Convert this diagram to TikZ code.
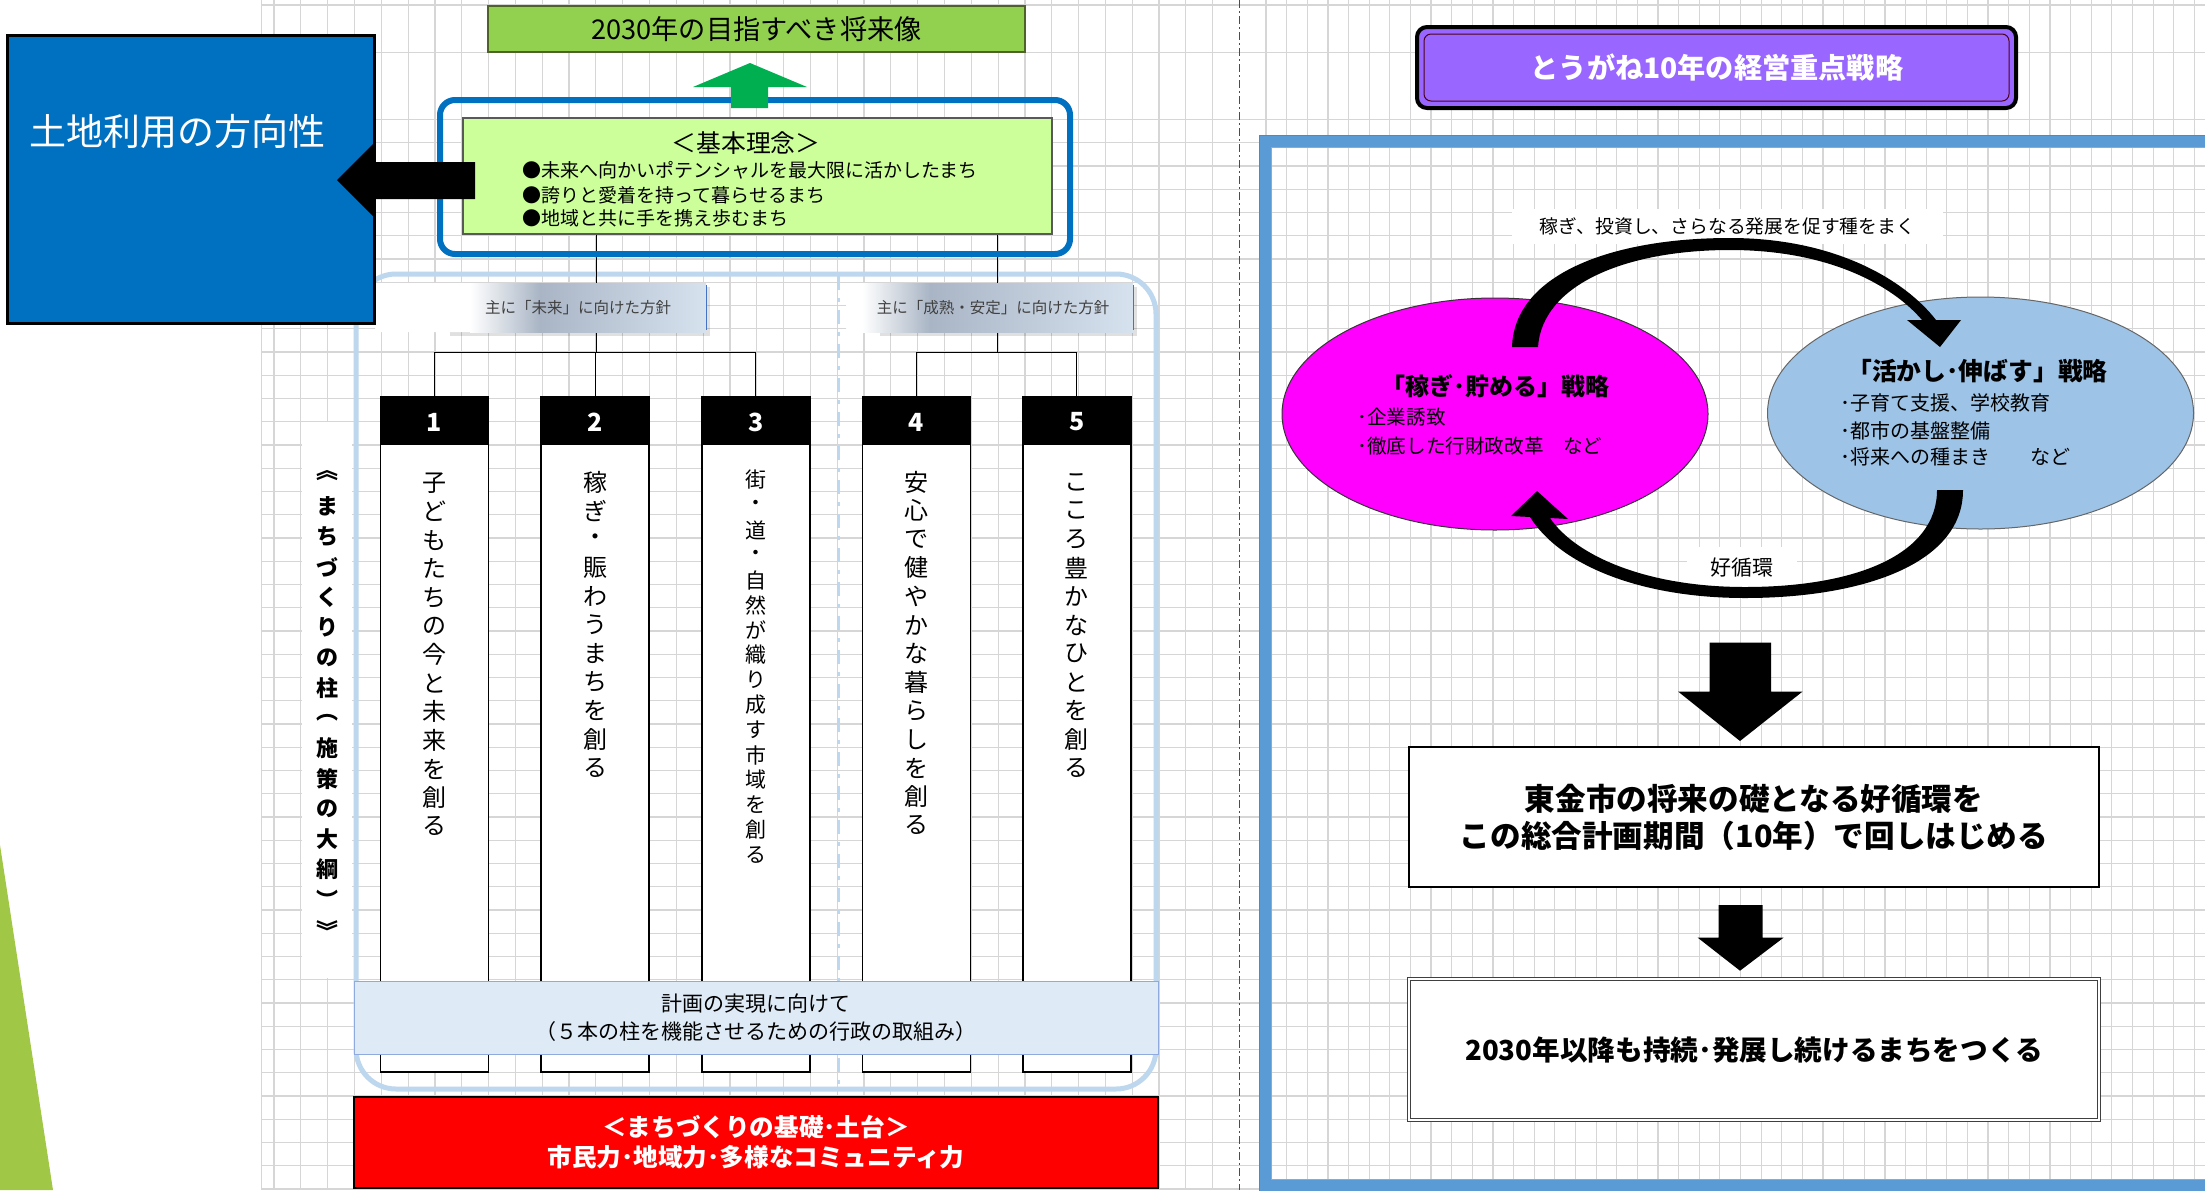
\documentclass[tikz,border=0pt]{standalone}
\usepackage{fontspec}
\newfontfamily\jp{Noto Sans CJK JP}
\usetikzlibrary{shapes.geometric}
\definecolor{landblue}{HTML}{0070C0}
\definecolor{topgreen}{HTML}{92D050}
\definecolor{topgreenline}{HTML}{4F6228}
\definecolor{arrowgreen}{HTML}{00B050}
\definecolor{kihonfill}{HTML}{CCFF99}
\definecolor{pale}{HTML}{BDD7EE}
\definecolor{calcfill}{HTML}{DEEBF7}
\definecolor{calcline}{HTML}{8FAADC}
\definecolor{purplebox}{HTML}{9966FF}
\definecolor{frameblue}{HTML}{5B9BD5}
\definecolor{framepurple}{HTML}{8866DD}
\definecolor{magentaE}{HTML}{FF00FF}
\definecolor{blueE}{HTML}{9DC3E6}
\definecolor{trigreen}{HTML}{A0C846}
\definecolor{gridc}{HTML}{D6D6D6}
\definecolor{lblgray}{HTML}{A9B5C5}
\definecolor{lbllight}{HTML}{D7E2EF}
\definecolor{lbltext}{HTML}{404040}
\definecolor{lblline}{HTML}{4472C4}
\newcommand\fz[2]{\fontsize{#1}{#2}\selectfont}
\begin{document}
\begin{tikzpicture}[x=0.5pt,y=-0.5pt,
  gridl/.style={draw=gridc, line width=0.6pt},
  txt/.style={inner sep=0pt, font=\jp},
  pch/.style={inner sep=0pt, font=\jp\fz{12pt}{12pt}},
  pchs/.style={inner sep=0pt, font=\jp\fz{10.5pt}{10.5pt}},
  vch/.style={inner sep=0pt, font=\jp\bfseries\fz{11pt}{11pt}},
  pillar/.style={draw=black, fill=white, line width=0.8pt, minimum width=54pt, minimum height=337.5pt, inner sep=0pt},
  pillarhead/.style={fill=black, minimum width=54pt, minimum height=24pt, inner sep=0pt, anchor=north},
  conn/.style={draw=black, line width=0.5pt},
  blockarrow/.style={fill=black}
]
\useasboundingbox (0,0) rectangle (2205,1190);
\fill[white] (0,0) rectangle (2205,1190);

% ---------- spreadsheet grid ----------
\begin{scope}[gridl]
\foreach \yy in {5,52.3} \draw (262,\yy) -- (2205,\yy);
\foreach \k in {0,...,46} \draw (262,{119.5+23.25*\k}) -- (2205,{119.5+23.25*\k});
\draw (261.7,0) -- (261.7,1190);
\foreach \k in {0,...,35} \draw ({274+26.82*\k},0) -- ({274+26.82*\k},1190);
\foreach \k in {0,...,46} \draw ({1266+20.63*\k},0) -- ({1266+20.63*\k},1190);
\end{scope}

% ---------- decorations ----------
\fill[trigreen] (0,845) -- (53,1190) -- (0,1190) -- cycle;
\draw[black!70, line width=0.5pt, dash pattern=on 4pt off 1.5pt on 1pt off 1.5pt] (1239.5,0) -- (1239.5,1190);

% ---------- left: pillar container ----------
\draw[pale, line width=2.5pt, rounded corners=20pt] (356,274) rectangle (1156,1089);
\draw[pale, line width=1.5pt, dash pattern=on 7pt off 4pt on 2pt off 4pt] (838,276) -- (838,1088);

% pillars
\foreach \n [count=\i from 0] in {1,...,5} {
  \pgfmathsetmacro\cx{434.5+160.6*\i}
  \node[pillar] (pil\n) at (\cx,734.5) {};
  \node[pillarhead] (hd\n) at (pil\n.north) {};
  \node[txt, font=\jp\bfseries\fz{12.5pt}{12.5pt}, text=white] (num\n) at (\cx,422) {\n};
}

% connectors
\coordinate (kL) at (596,234);
\coordinate (kR) at (997,234);
\coordinate (jL) at (596,352);
\coordinate (jR) at (997,352);
\draw[conn] (kL) -- (jL);
\draw[conn] (kR) -- (jR);
\draw[conn] (pil1.north |- jL) -- (pil3.north |- jL);
\draw[conn] (pil4.north |- jR) -- (pil5.north |- jR);
\foreach \n in {1,2,3} \draw[conn] (pil\n.north |- jL) -- (pil\n.north);
\foreach \n in {4,5} \draw[conn] (pil\n.north |- jR) -- (pil\n.north);

% policy labels
\fill[black, opacity=0.12] (450,287) rectangle (710,336);
\fill[white, rounded corners=2pt] (375,283) rectangle (707,332);
\shade[left color=white, right color=lblgray] (470,283) rectangle (540,332);
\shade[left color=lblgray, right color=lbllight] (540,283) rectangle (706,332);
\draw[lblline, line width=0.5pt] (706.5,285) -- (706.5,330);
\node[txt, font=\jp\fz{7.75pt}{7.75pt}, text=lbltext] (lblA) at (578,308) {主に「未来」に向けた方針};

\fill[black, opacity=0.12] (880,287) rectangle (1137,336);
\fill[white, rounded corners=2pt] (846,283) rectangle (1134,332);
\shade[left color=white, right color=lblgray] (862,283) rectangle (930,332);
\shade[left color=lblgray, right color=lbllight] (930,283) rectangle (1133,332);
\draw[lblline, line width=0.5pt] (1133.5,285) -- (1133.5,330);
\node[txt, font=\jp\fz{7.75pt}{7.75pt}, text=lbltext] (lblB) at (993,308) {主に「成熟・安定」に向けた方針};

% pillar texts
\foreach \c [count=\i from 0] in {子,ど,も,た,ち,の,今,と,未,来,を,創,る}
  \node[pch] (pa\i) at (434.5,{483+28.6*\i}) {\c};
\foreach \c [count=\i from 0] in {稼,ぎ,・,賑,わ,う,ま,ち,を,創,る}
  \node[pch] (pb\i) at (595.1,{482+28.6*\i}) {\c};
\foreach \c [count=\i from 0] in {街,・,道,・,自,然,が,織,り,成,す,市,域,を,創,る}
  \node[pchs] (pc\i) at (755.7,{480+25*\i}) {\c};
\foreach \c [count=\i from 0] in {安,心,で,健,や,か,な,暮,ら,し,を,創,る}
  \node[pch] (pd\i) at (916.3,{482+28.6*\i}) {\c};
\foreach \c [count=\i from 0] in {こ,こ,ろ,豊,か,な,ひ,と,を,創,る}
  \node[pch] (pe\i) at (1076.9,{482+28.6*\i}) {\c};

% vertical label
\node[fill=white, minimum width=25pt, minimum height=278pt, inner sep=0pt] (vlbg) at (327,700) {};
\foreach \c [count=\i from 0] in {︽,ま,ち,づ,く,り,の,柱,︵,施,策,の,大,綱,︶,︾}
  \node[vch] (vl\i) at (327,{476+30.27*\i}) {\c};

% implementation box and foundation box
\node[draw=calcline, fill=calcfill, line width=0.5pt, minimum width=402pt, minimum height=36.5pt, inner sep=0pt, align=center, font=\jp\fz{10.5pt}{14pt}] (calc) at (756,1017.5) {計画の実現に向けて\\（５本の柱を機能させるための行政の取組み）};
\node[draw=black, fill=red, line width=0.75pt, minimum width=402pt, minimum height=45.5pt, inner sep=0pt, align=center, text=white, font=\jp\bfseries\fz{12.3pt}{15pt}] (base) at (756,1142.5) {＜まちづくりの基礎･土台＞\\市民力･地域力･多様なコミュニティ力};

% ---------- basic philosophy ----------
\draw[landblue, line width=3pt, rounded corners=7.5pt] (440,100) rectangle (1070,254);
\node[draw=black!65, fill=kihonfill, line width=0.6pt, minimum width=294.5pt, minimum height=58pt, inner sep=0pt] (kihon) at (757.5,176) {};
\node[txt, font=\jp\fz{12.4pt}{12.4pt}] (kihonT) at (746,143) {＜基本理念＞};
\node[txt, font=\jp\fz{9.5pt}{9.5pt}, anchor=west] (kb1) at (522,170.7) {●未来へ向かいポテンシャルを最大限に活かしたまち};
\node[txt, font=\jp\fz{9.5pt}{9.5pt}, anchor=west] (kb2) at (522,195) {●誇りと愛着を持って暮らせるまち};
\node[txt, font=\jp\fz{9.5pt}{9.5pt}, anchor=west] (kb3) at (522,218.3) {●地域と共に手を携え歩むまち};

% future vision
\node[draw=topgreenline, fill=topgreen, line width=1pt, minimum width=268.5pt, minimum height=23pt, inner sep=0pt] (vision) at (756.5,29) {};
\node[txt, font=\jp\fz{13.6pt}{13.6pt}] (visionT) at (756.5,29) {2030年の目指すべき将来像};
\fill[arrowgreen] (731,108) -- (731,87) -- (693,87) -- (750,63) -- (807,87) -- (768,87) -- (768,108) -- cycle;

% land use box
\node[draw=black, fill=landblue, line width=1.5pt, minimum width=183.5pt, minimum height=144pt, inner sep=0pt] (land) at (190.5,179) {};
\node[txt, text=white, font=\jp\fz{18.5pt}{18.5pt}] (landT) at (177.5,131) {土地利用の方向性};
\fill[black] (475,162) -- (374,162) -- (374,143) -- (337,180) -- (374,217) -- (374,199) -- (475,199) -- cycle;

% ---------- right side ----------
\draw[frameblue, line width=6pt] (2260,141) -- (1265,141) -- (1265,1185) -- (2260,1185);
\draw[framepurple, line width=0.35pt] (2260,135) -- (1259,135) -- (1259,1191);
\draw[framepurple!70, line width=0.3pt] (2260,147) -- (1271,147) -- (1271,1179) -- (2260,1179);

\node[draw=black, fill=purplebox, line width=2pt, rounded corners=5pt, minimum width=299.5pt, minimum height=40.5pt, inner sep=0pt] (title) at (1716.5,67.5) {};
\draw[black!60!purple, line width=0.5pt, rounded corners=3.5pt] (1424,34) rectangle (2009,101);
\node[txt, text=white, font=\jp\bfseries\fz{14.1pt}{14.1pt}] (titleT) at (1717,68) {とうがね10年の経営重点戦略};

\node[ellipse, draw=black!80, fill=magentaE, line width=0.5pt, minimum width=213pt, minimum height=116pt, inner sep=0pt] (earn) at (1495,414) {};
\node[ellipse, draw=black!60, fill=blueE, line width=0.5pt, minimum width=213pt, minimum height=116pt, inner sep=0pt] (grow) at (1980.5,413) {};

\node[fill=white, minimum width=215.5pt, minimum height=17.5pt, inner sep=0pt] (topbg) at (1727.5,226) {};
\node[fill=white, minimum width=55pt, minimum height=20.5pt, inner sep=0pt] (botbg) at (1742,567.5) {};

% circulation arrows
\fill[black] (1512,347) .. controls (1514,275) and (1610,238) .. (1730,238)
  .. controls (1835,238) and (1905,280) .. (1936,320) -- (1961,320) -- (1940,347) -- (1907,320) -- (1922,320)
  .. controls (1893,286) and (1830,250) .. (1730,250)
  .. controls (1625,250) and (1542,285) .. (1538,347) -- cycle;
\fill[black] (1963,490) .. controls (1963,565) and (1860,598) .. (1745,598)
  .. controls (1640,598) and (1560,565) .. (1530,517) -- (1511,516) -- (1537,491) -- (1568,519) -- (1550,518)
  .. controls (1575,555) and (1645,587) .. (1745,587)
  .. controls (1855,587) and (1937,555) .. (1937,490) -- cycle;

\node[txt, font=\jp\fz{9.4pt}{9.4pt}] (topT) at (topbg) {稼ぎ、投資し、さらなる発展を促す種をまく};
\node[txt, font=\jp\fz{10.5pt}{10.5pt}] (botT) at (botbg) {好循環};

\node[txt, font=\jp\bfseries\fz{12pt}{12pt}] (earnT) at (1495,386) {「稼ぎ･貯める」戦略};
\node[txt, font=\jp\fz{9.8pt}{9.8pt}, anchor=west] (earn1) at (1357,417) {･企業誘致};
\node[txt, font=\jp\fz{9.8pt}{9.8pt}, anchor=west] (earn2) at (1357,446) {･徹底した行財政改革　など};

\node[txt, font=\jp\bfseries\fz{12.4pt}{12.4pt}] (growT) at (1977.5,371) {「活かし･伸ばす」戦略};
\node[txt, font=\jp\fz{10pt}{10pt}, anchor=west] (grow1) at (1840,403) {･子育て支援、学校教育};
\node[txt, font=\jp\fz{10pt}{10pt}, anchor=west] (grow2) at (1840,430.5) {･都市の基盤整備};
\node[txt, font=\jp\fz{10pt}{10pt}, anchor=west] (grow3) at (1840,457) {･将来への種まき　　など};

% result boxes
\node[draw=black, fill=white, line width=1pt, minimum width=345pt, minimum height=70pt, inner sep=0pt, align=center, font=\jp\bfseries\fz{15.3pt}{18.5pt}] (res1) at (1754,817) {東金市の将来の礎となる好循環を\\この総合計画期間（10年）で回しはじめる};
\node[draw=black!75, fill=white, line width=0.5pt, double=white, double distance=0.6pt, minimum width=345pt, minimum height=70.5pt, inner sep=0pt, font=\jp\bfseries\fz{13.8pt}{13.8pt}] (res2) at (1754,1049.5) {2030年以降も持続･発展し続けるまちをつくる};

% down block arrows
\fill[blockarrow] (1709.6,642.5) -- (1771,642.5) -- (1771,691.5) -- (1802.6,691.5) -- (1740,741) -- (1678,691.5) -- (1709.6,691.5) -- cycle;
\fill[blockarrow] (1718.7,905) -- (1762.5,905) -- (1762.5,937.6) -- (1783.6,937.6) -- (1740,970.7) -- (1697.6,937.6) -- (1718.7,937.6) -- cycle;
\end{tikzpicture}
\end{document}
